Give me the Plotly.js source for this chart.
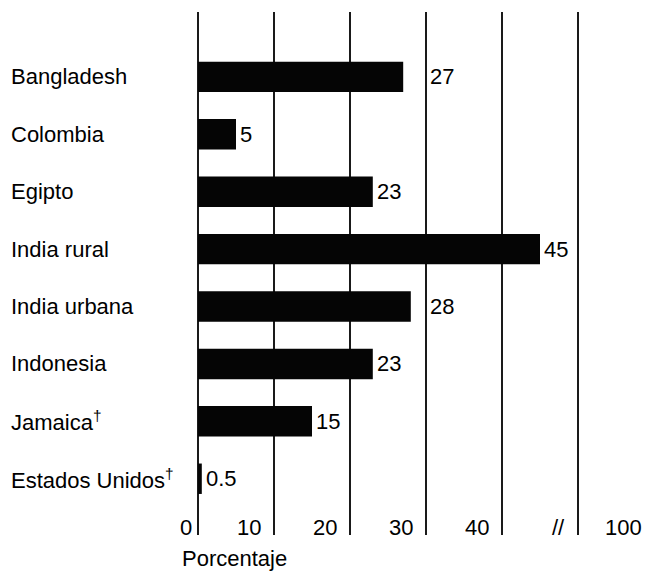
<!DOCTYPE html>
<html>
<head>
<meta charset="utf-8">
<script src="https://cdn.plot.ly/plotly-3.0.1.min.js"></script>
<style>html,body{margin:0;padding:0;background:#fff;}#chart{width:649px;height:572px;}</style>
</head>
<body>
<div id="chart"></div>
<script>
const categories = ["Bangladesh", "Colombia", "Egipto", "India rural", "India urbana", "Indonesia", "Jamaica", "Estados Unidos"];
const categoryLabels = ["Bangladesh", "Colombia", "Egipto", "India rural", "India urbana", "Indonesia", "Jamaica<sup>†</sup>", "Estados Unidos<sup>†</sup>"];
const values = [27, 5, 23, 45, 28, 23, 15, 0.5];
const valueLabels = ["27", "5", "23", "45", "28", "23", "15", "0.5"];
const tickVals = [0, 10, 20, 30, 40, 50];
const tickLabels = ["0", "10", "20", "30", "40", "//"];
const breakLabel = "100";
const axisTitle = "Porcentaje";

const FONT = "Liberation Sans, Arial, Helvetica, sans-serif";
const FS = 22;
const L = 198, W = 649, H = 572, T = 12, B = 37;
const plotW = W - L - 1;
const plotH = H - T - B;

const annotations = [];
// category labels, left aligned
categories.forEach((c, i) => {
  annotations.push({
    xref: 'paper', yref: 'y', x: (9 - L) / plotW, y: c,
    text: categoryLabels[i], showarrow: false, xanchor: 'left', yanchor: 'middle',
    font: {family: FONT, size: FS, color: '#000'}
  });
});
// value labels; jump past a gridline if it would collide
values.forEach((v, i) => {
  const nextLine = Math.ceil(v / 10) * 10;
  let xPos = v;
  if (nextLine - v > 0 && nextLine - v < 3.5) xPos = nextLine;
  annotations.push({
    xref: 'x', yref: 'y', x: xPos, y: categories[i],
    text: valueLabels[i], showarrow: false, xanchor: 'left', yanchor: 'middle',
    xshift: 2, font: {family: FONT, size: FS, color: '#000'}
  });
});
// x tick labels, left of each gridline
tickVals.forEach((t, i) => {
  annotations.push({
    xref: 'x', yref: 'paper', x: t, y: 8 / plotH,
    text: tickLabels[i], showarrow: false, xanchor: 'right', yanchor: 'middle',
    xshift: t === 0 ? -4 : -11, font: {family: FONT, size: FS, color: '#000'}
  });
});
annotations.push({
  xref: 'x', yref: 'paper', x: tickVals[tickVals.length - 1], y: 8 / plotH,
  text: breakLabel, showarrow: false, xanchor: 'left', yanchor: 'middle',
  xshift: 25, font: {family: FONT, size: FS, color: '#000'}
});
annotations.push({
  xref: 'paper', yref: 'paper', x: (180 - L) / plotW, y: -(558 - (H - B)) / plotH,
  text: axisTitle, showarrow: false, xanchor: 'left', yanchor: 'middle',
  font: {family: FONT, size: FS, color: '#000'}
});

const trace = {
  type: 'bar', orientation: 'h',
  x: values, y: categories,
  marker: {color: '#050505', line: {width: 0}},
  hoverinfo: 'skip'
};

const layout = {
  width: W, height: H,
  margin: {l: L, r: 1, t: T, b: B},
  paper_bgcolor: '#fff', plot_bgcolor: '#fff',
  showlegend: false,
  bargap: 0.47,
  xaxis: {
    range: [0, plotW / 7.6], tickvals: tickVals, showticklabels: false,
    showgrid: true, gridcolor: '#1a1a1a', gridwidth: 1.5,
    zeroline: true, zerolinecolor: '#1a1a1a', zerolinewidth: 1.5,
    showline: false, ticks: '', fixedrange: true
  },
  yaxis: {
    type: 'category', categoryorder: 'array', categoryarray: categories,
    range: [7.98, -1.13], showticklabels: false, showgrid: false,
    zeroline: false, showline: false, ticks: ''
  },
  annotations: annotations
};

Plotly.newPlot('chart', [trace], layout, {displayModeBar: false, staticPlot: true});
</script>
</body>
</html>
